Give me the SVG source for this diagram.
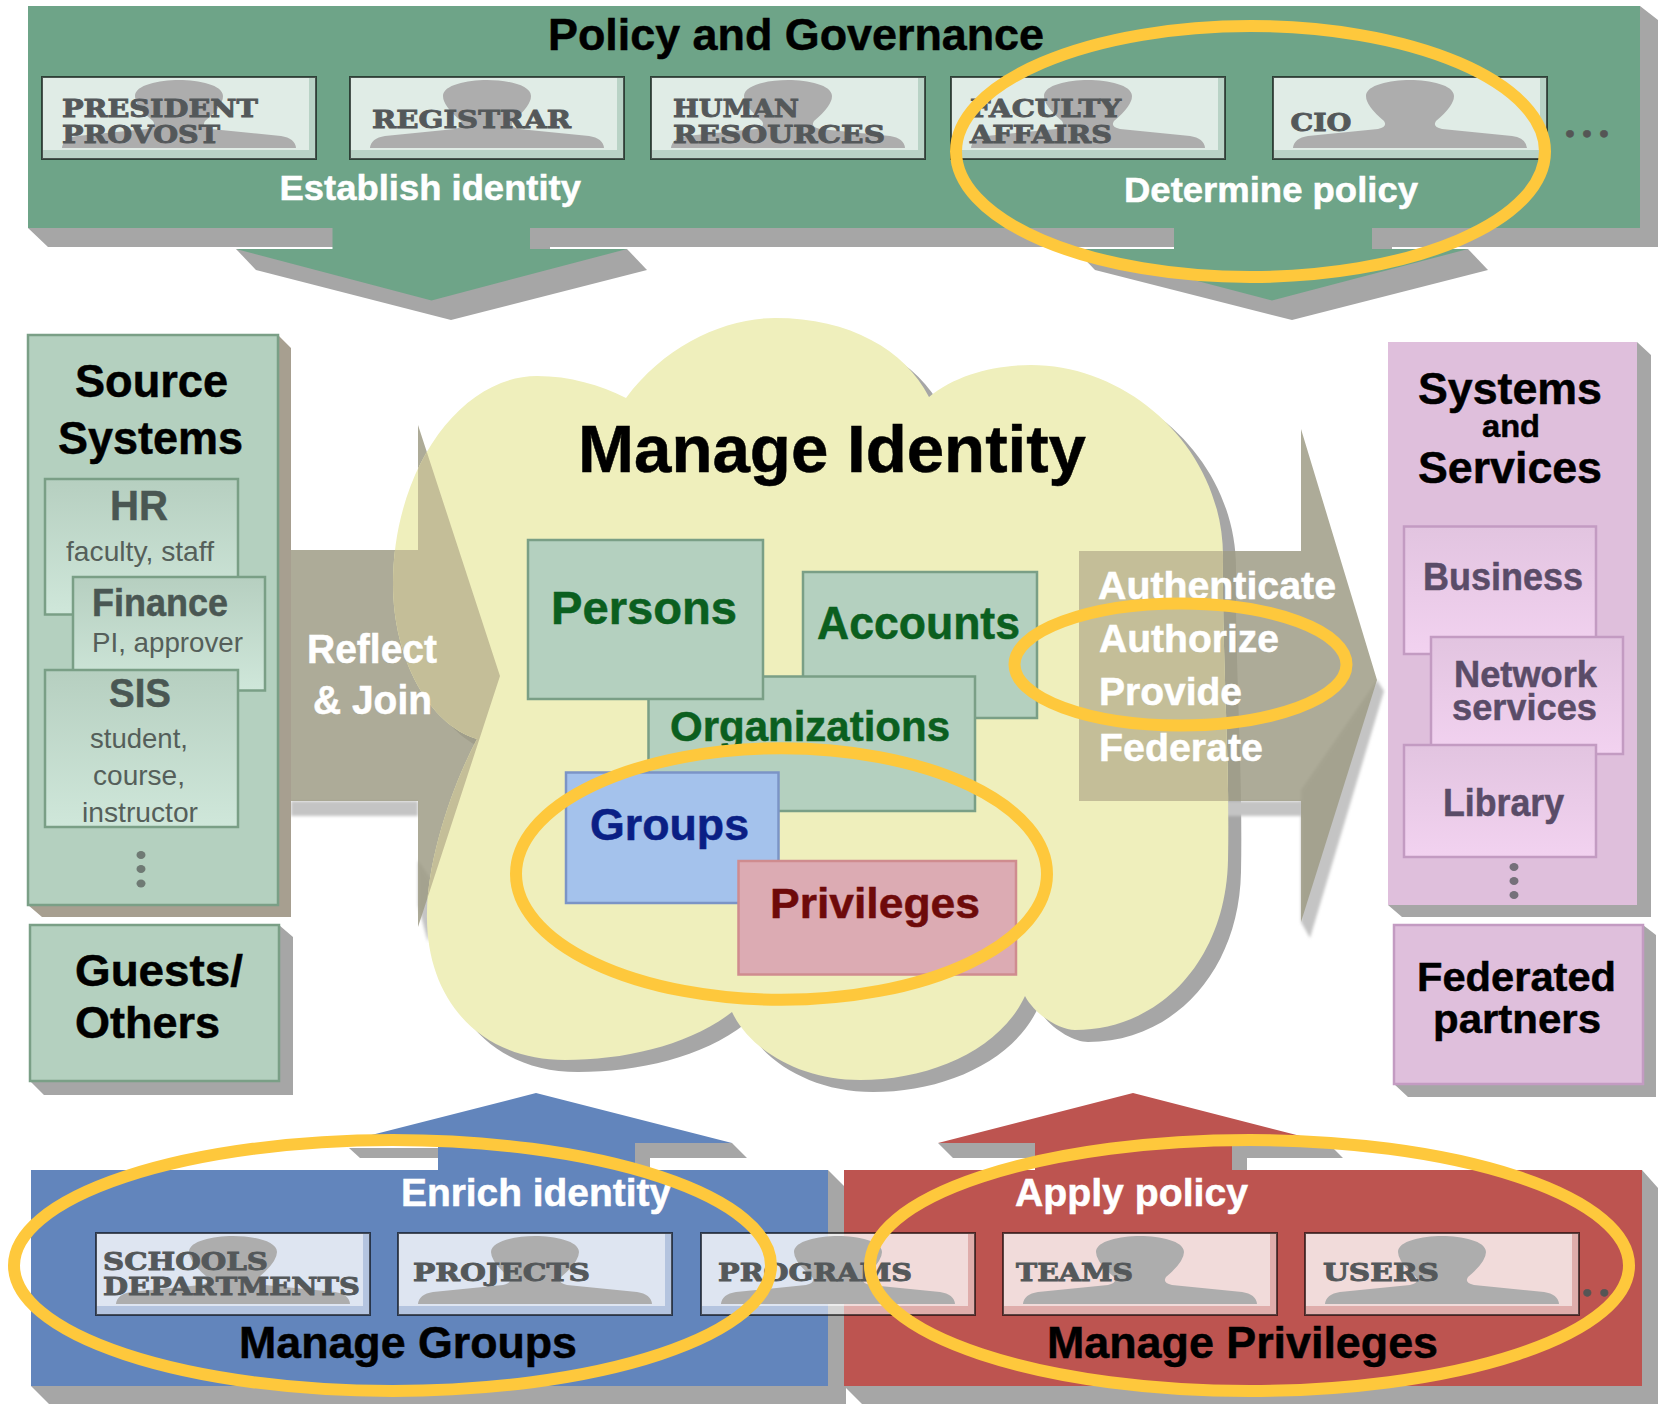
<svg xmlns="http://www.w3.org/2000/svg" xmlns:xlink="http://www.w3.org/1999/xlink" width="1660" height="1404" viewBox="0 0 1660 1404">
<style>
text{font-family:"Liberation Sans",Arial,sans-serif;font-weight:700;fill:#000;stroke:#000;stroke-width:.5}
.w{fill:#fff;stroke:#fff}
.role{font-family:"DejaVu Serif","Liberation Serif",serif;font-size:25px;fill:#54585a;stroke:#54585a;stroke-width:.9}
.dots{font-family:"DejaVu Serif","Liberation Serif",serif;font-size:40px;fill:#555;stroke:#555}
.reg{font-weight:400;font-size:28px;fill:#555f5a;stroke:none}
.sub{fill:#4a5753;stroke:#4a5753}
.psub{fill:#5a4c68;stroke:#5a4c68}
.shadow{fill:#a6a6a6}
.ring{fill:none;stroke:#fec83c;stroke-width:12}
.green{fill:#b4d0bf;stroke:#7a9f86;stroke-width:2.5}
.pink{fill:#dfbfdc;stroke:#c39bc2;stroke-width:2.5}
.gbox{fill:url(#gg);stroke:#7a9f86;stroke-width:2.5}
.pbox{fill:url(#pg);stroke:#c39bc2;stroke-width:2.5}
.dg{fill:#0b5f1f;stroke:#0b5f1f}
.arrowfill{fill:#9f9c86;fill-opacity:.85}
.arrowshadow{fill:#c4c4c4}
</style>
<defs>
<path id="cloud-shape" d="M626 398C665 345 725 318 775 318C850 318 905 350 929 397C955 375 995 365 1031 365C1130 365 1225 450 1223 560C1222 650 1230 760 1228 860C1226 960 1160 1030 1075 1030C1060 1030 1035 1015 1025 996C1000 1050 930 1080 860 1080C800 1080 750 1050 732 1012C690 1045 625 1060 565 1060C480 1060 425 1000 427 912C428 860 450 790 477 739C430 725 393 660 393 584C393 470 460 376 537 376C570 376 600 385 626 398Z"/>
<path id="arrow-left" d="M278 550H418V425L500 676L418 927V801H278Z"/>
<path id="arrow-right" d="M1079 551H1301V429L1377 680L1301 922V801H1079Z"/>
<clipPath id="in-cloud"><use href="#cloud-shape"/></clipPath>
<linearGradient id="gg" x1="0" y1="0" x2="0" y2="1"><stop offset="0" stop-color="#b6cfc0"/><stop offset="1" stop-color="#cfe7da"/></linearGradient>
<linearGradient id="pg" x1="0" y1="0" x2="0" y2="1"><stop offset="0" stop-color="#e2c4e0"/><stop offset="1" stop-color="#f2d2f0"/></linearGradient>
<filter id="soft" x="-10%" y="-10%" width="120%" height="120%"><feGaussianBlur stdDeviation="1.5"/></filter>
<g id="card">
<rect x="1" y="1" width="274" height="82" fill="#fff" fill-opacity=".52"/>
<rect x="2" y="2" width="266" height="72" fill="#fff" fill-opacity=".56"/>
<path d="M21 72Q22 62 36 60L106 53Q116 51 112 45Q94 30 94 20C94 9 118 4 138 4C158 4 182 9 182 20Q182 30 164 45Q160 51 170 53L240 60Q254 62 255 72Z" fill="#adadad"/>
<rect x="1" y="1" width="274" height="82" fill="none" stroke="#000" stroke-opacity=".6" stroke-width="2"/>
</g>
</defs>

<rect width="1660" height="1404" fill="#fff"/>

<use id="cloud-shadow" class="shadow" href="#cloud-shape" transform="translate(13,12)"/>

<g id="connectors">
<g id="arrow-reflect-join">
<path class="arrowshadow" filter="url(#soft)" d="M291 801H418V816H291ZM418 905L428 942L438 890L418 860Z"/>
<use class="arrowfill" href="#arrow-left"/>
</g>
<g id="arrow-provide">
<path class="arrowshadow" filter="url(#soft)" d="M1226 801H1301V790L1377 680L1384 691L1310 938L1301 922V816H1226Z"/>
<use class="arrowfill" href="#arrow-right"/>
</g>
</g>

<g id="cloud">
<use href="#cloud-shape" fill="#efefbc"/>
<g clip-path="url(#in-cloud)" fill="#c4be98">
<use href="#arrow-left"/>
<use href="#arrow-right"/>
</g>
<text x="578" y="472" font-size="66" textLength="508" lengthAdjust="spacingAndGlyphs">Manage Identity</text>
</g>

<g id="accounts"><rect class="green" x="803" y="572" width="234" height="146"/><text class="dg" x="817" y="639" font-size="46" textLength="203" lengthAdjust="spacingAndGlyphs">Accounts</text></g>
<g id="organizations"><rect class="green" x="648.5" y="676.5" width="326.5" height="134.5"/><text class="dg" x="670" y="741" font-size="42" textLength="280" lengthAdjust="spacingAndGlyphs">Organizations</text></g>
<g id="persons"><rect class="green" x="528" y="540" width="235" height="159"/><text class="dg" x="551" y="624" font-size="46" textLength="186" lengthAdjust="spacingAndGlyphs">Persons</text></g>
<g id="groups"><rect x="566" y="772.5" width="212.5" height="130.5" fill="#a4c2ec" stroke="#7b94c6" stroke-width="2.5"/><text x="590" y="840" font-size="44" textLength="159" lengthAdjust="spacingAndGlyphs" style="fill:#0a1f85;stroke:#0a1f85">Groups</text></g>
<g id="privileges"><rect x="738.5" y="861" width="277.5" height="113.5" fill="#dcabb3" stroke="#cf8c8f" stroke-width="2.5"/><text x="770" y="918" font-size="43" textLength="210" lengthAdjust="spacingAndGlyphs" style="fill:#6e0a0a;stroke:#6e0a0a">Privileges</text></g>

<g id="arrow-labels">
<text class="w" x="307" y="663" font-size="40" textLength="130" lengthAdjust="spacingAndGlyphs">Reflect</text>
<text class="w" x="313" y="714" font-size="40" textLength="119" lengthAdjust="spacingAndGlyphs">&amp; Join</text>
<text class="w" x="1098" y="599" font-size="39" textLength="238" lengthAdjust="spacingAndGlyphs">Authenticate</text>
<text class="w" x="1099" y="652" font-size="39" textLength="180" lengthAdjust="spacingAndGlyphs">Authorize</text>
<text class="w" x="1099" y="705" font-size="39" textLength="143" lengthAdjust="spacingAndGlyphs">Provide</text>
<text class="w" x="1099" y="761" font-size="39" textLength="164" lengthAdjust="spacingAndGlyphs">Federate</text>
</g>

<g id="source-systems">
<path d="M278 335L291 348V917H42L28 905H278Z" fill="#a79f90"/>
<rect class="green" x="28" y="335" width="250" height="570"/>
<text x="75" y="397" font-size="46" textLength="153" lengthAdjust="spacingAndGlyphs">Source</text>
<text x="58" y="454" font-size="46" textLength="185" lengthAdjust="spacingAndGlyphs">Systems</text>
<g id="hr"><rect class="gbox" x="45" y="479" width="193" height="135.5"/><text class="sub" x="110" y="520" font-size="43" textLength="58" lengthAdjust="spacingAndGlyphs">HR</text><text class="reg" x="66" y="561" textLength="148" lengthAdjust="spacingAndGlyphs">faculty, staff</text></g>
<g id="finance"><rect class="gbox" x="73" y="577" width="192" height="113.5"/><text class="sub" x="92" y="616" font-size="38" textLength="136" lengthAdjust="spacingAndGlyphs">Finance</text><text class="reg" x="92" y="652" textLength="151" lengthAdjust="spacingAndGlyphs">PI, approver</text></g>
<g id="sis"><rect class="gbox" x="45" y="670" width="193" height="157"/><text class="sub" x="109" y="707" font-size="40" textLength="62" lengthAdjust="spacingAndGlyphs">SIS</text><text class="reg" x="90" y="748" textLength="98" lengthAdjust="spacingAndGlyphs">student,</text><text class="reg" x="93" y="785" textLength="92" lengthAdjust="spacingAndGlyphs">course,</text><text class="reg" x="82" y="821.5" textLength="116" lengthAdjust="spacingAndGlyphs">instructor</text></g>
<g fill="#6f7a74"><ellipse cx="141" cy="855" rx="4.5" ry="4"/><ellipse cx="141" cy="869" rx="4.5" ry="4"/><ellipse cx="141" cy="883.5" rx="4.5" ry="4"/></g>
</g>

<g id="guests">
<path class="shadow" d="M279 925L293 937V1095H44L30 1081H279Z"/>
<rect class="green" x="30" y="925" width="249" height="156"/>
<text x="75" y="986" font-size="45" textLength="168" lengthAdjust="spacingAndGlyphs">Guests/</text>
<text x="75" y="1038" font-size="45" textLength="145" lengthAdjust="spacingAndGlyphs">Others</text>
</g>

<g id="systems-services">
<path class="shadow" d="M1637 342L1651 355V917H1402L1388 905H1637Z"/>
<rect x="1388" y="342" width="249" height="563" fill="#dfbfdc"/>
<text x="1418" y="404" font-size="45" textLength="184" lengthAdjust="spacingAndGlyphs">Systems</text>
<text x="1482" y="437" font-size="32" textLength="58" lengthAdjust="spacingAndGlyphs">and</text>
<text x="1418" y="483" font-size="45" textLength="184" lengthAdjust="spacingAndGlyphs">Services</text>
<g id="business"><rect class="pbox" x="1404" y="526.5" width="192" height="127.5"/><text class="psub" x="1423" y="590" font-size="38" textLength="160" lengthAdjust="spacingAndGlyphs">Business</text></g>
<g id="network"><rect class="pbox" x="1431" y="637" width="192" height="117"/><text class="psub" x="1454" y="687" font-size="36" textLength="143" lengthAdjust="spacingAndGlyphs">Network</text><text class="psub" x="1452" y="719.5" font-size="36" textLength="145" lengthAdjust="spacingAndGlyphs">services</text></g>
<g id="library"><rect class="pbox" x="1404" y="745" width="192" height="112"/><text class="psub" x="1443" y="816" font-size="38" textLength="121" lengthAdjust="spacingAndGlyphs">Library</text></g>
<g fill="#75707a"><ellipse cx="1514" cy="867" rx="4.5" ry="4"/><ellipse cx="1514" cy="881" rx="4.5" ry="4"/><ellipse cx="1514" cy="895" rx="4.5" ry="4"/></g>
</g>

<g id="federated">
<path class="shadow" d="M1643 925L1656 935V1097H1408L1394 1084H1643Z"/>
<rect class="pink" x="1394" y="925" width="249" height="159"/>
<text x="1417" y="991" font-size="40" textLength="199" lengthAdjust="spacingAndGlyphs">Federated</text>
<text x="1433" y="1033" font-size="40" textLength="168" lengthAdjust="spacingAndGlyphs">partners</text>
</g>

<g id="policy-governance">
<path class="shadow" d="M28 228L48 247H1658V20L1640 6V228Z"/>
<path class="shadow" d="M530 228H550V249H530ZM1372 228H1392V249H1372Z"/>
<path class="shadow" d="M236 249L256 270L451 320L647 270L627 249Z"/>
<path class="shadow" d="M1075 249L1095 270L1292 320L1488 270L1468 249Z"/>
<path fill="#6ea488" d="M28 6H1640V228H1372V249H1468L1272 300.5L1075 249H1174V228H530V249H627L431.5 300.5L236 249H332.5V228H28Z"/>
<text x="548" y="50" font-size="44" textLength="496" lengthAdjust="spacingAndGlyphs">Policy and Governance</text>
<text class="w" x="279.5" y="200" font-size="35" textLength="301.5" lengthAdjust="spacingAndGlyphs">Establish identity</text>
<text class="w" x="1124" y="202" font-size="35" textLength="294" lengthAdjust="spacingAndGlyphs">Determine policy</text>
<g id="president"><use href="#card" x="41" y="76"/><text class="role" x="62" y="117" textLength="196" lengthAdjust="spacingAndGlyphs">PRESIDENT</text><text class="role" x="62" y="143" textLength="158" lengthAdjust="spacingAndGlyphs">PROVOST</text></g>
<g id="registrar"><use href="#card" x="349" y="76"/><text class="role" x="372" y="128" textLength="199" lengthAdjust="spacingAndGlyphs">REGISTRAR</text></g>
<g id="human-resources"><use href="#card" x="650" y="76"/><text class="role" x="673" y="117" textLength="126" lengthAdjust="spacingAndGlyphs">HUMAN</text><text class="role" x="673" y="143" textLength="212" lengthAdjust="spacingAndGlyphs">RESOURCES</text></g>
<g id="faculty-affairs"><use href="#card" x="950" y="76"/><text class="role" x="970" y="117" textLength="151" lengthAdjust="spacingAndGlyphs">FACULTY</text><text class="role" x="970" y="143" textLength="142" lengthAdjust="spacingAndGlyphs">AFFAIRS</text></g>
<g id="cio"><use href="#card" x="1272" y="76"/><text class="role" x="1290.5" y="131" textLength="61" lengthAdjust="spacingAndGlyphs">CIO</text></g>
<text class="dots" x="1563" y="137" textLength="48">...</text>
</g>

<g id="manage-groups">
<path class="shadow" d="M31 1386L49 1404H846V1188L828 1170V1386Z"/>
<path class="shadow" d="M349 1148H438V1158H360ZM635 1143H732L747 1158H650V1170H635Z"/>
<path fill="#6285bc" d="M31 1170H438V1143H340L536 1093L732 1143H635V1170H828V1386H31Z"/>
</g>
<g id="manage-privileges">
<path class="shadow" d="M844 1386L862 1404H1658V1188L1642 1170V1386Z"/>
<path class="shadow" d="M938 1143L953 1158H1035V1143ZM1232 1143H1328L1343 1158H1247V1170H1232Z"/>
<path fill="#bd5450" d="M844 1170H1035V1143H938L1133 1093L1328 1143H1232V1170H1642V1386H844Z"/>
</g>
<g id="bottom-labels">
<text class="w" x="401" y="1206" font-size="38" textLength="270" lengthAdjust="spacingAndGlyphs">Enrich identity</text>
<text x="239" y="1358" font-size="44" textLength="338" lengthAdjust="spacingAndGlyphs">Manage Groups</text>
<text class="w" x="1015" y="1206" font-size="38" textLength="233" lengthAdjust="spacingAndGlyphs">Apply policy</text>
<text x="1047" y="1358" font-size="44" textLength="391" lengthAdjust="spacingAndGlyphs">Manage Privileges</text>
</g>
<g id="schools"><use href="#card" x="95" y="1232"/><text class="role" x="103" y="1270" textLength="165" lengthAdjust="spacingAndGlyphs">SCHOOLS</text><text class="role" x="103" y="1295" textLength="257" lengthAdjust="spacingAndGlyphs">DEPARTMENTS</text></g>
<g id="projects"><use href="#card" x="397" y="1232"/><text class="role" x="413" y="1281" textLength="177" lengthAdjust="spacingAndGlyphs">PROJECTS</text></g>
<g id="programs"><use href="#card" x="700" y="1232"/><text class="role" x="718" y="1281" textLength="194" lengthAdjust="spacingAndGlyphs">PROGRAMS</text></g>
<g id="teams"><use href="#card" x="1002" y="1232"/><text class="role" x="1016" y="1281" textLength="117" lengthAdjust="spacingAndGlyphs">TEAMS</text></g>
<g id="users"><use href="#card" x="1304" y="1232"/><text class="role" x="1323" y="1281" textLength="116" lengthAdjust="spacingAndGlyphs">USERS</text></g>
<text class="dots" x="1580" y="1296" textLength="48">...</text>

<g id="highlights">
<ellipse class="ring" cx="1250.5" cy="151.5" rx="294.5" ry="125.5"/>
<ellipse class="ring" cx="1180.5" cy="664.5" rx="166" ry="61"/>
<ellipse class="ring" cx="781.5" cy="874" rx="265.5" ry="125.8"/>
<ellipse class="ring" cx="392.5" cy="1265.5" rx="378.5" ry="125.5"/>
<ellipse class="ring" cx="1249.5" cy="1265.5" rx="379.5" ry="125.5"/>
</g>
</svg>
